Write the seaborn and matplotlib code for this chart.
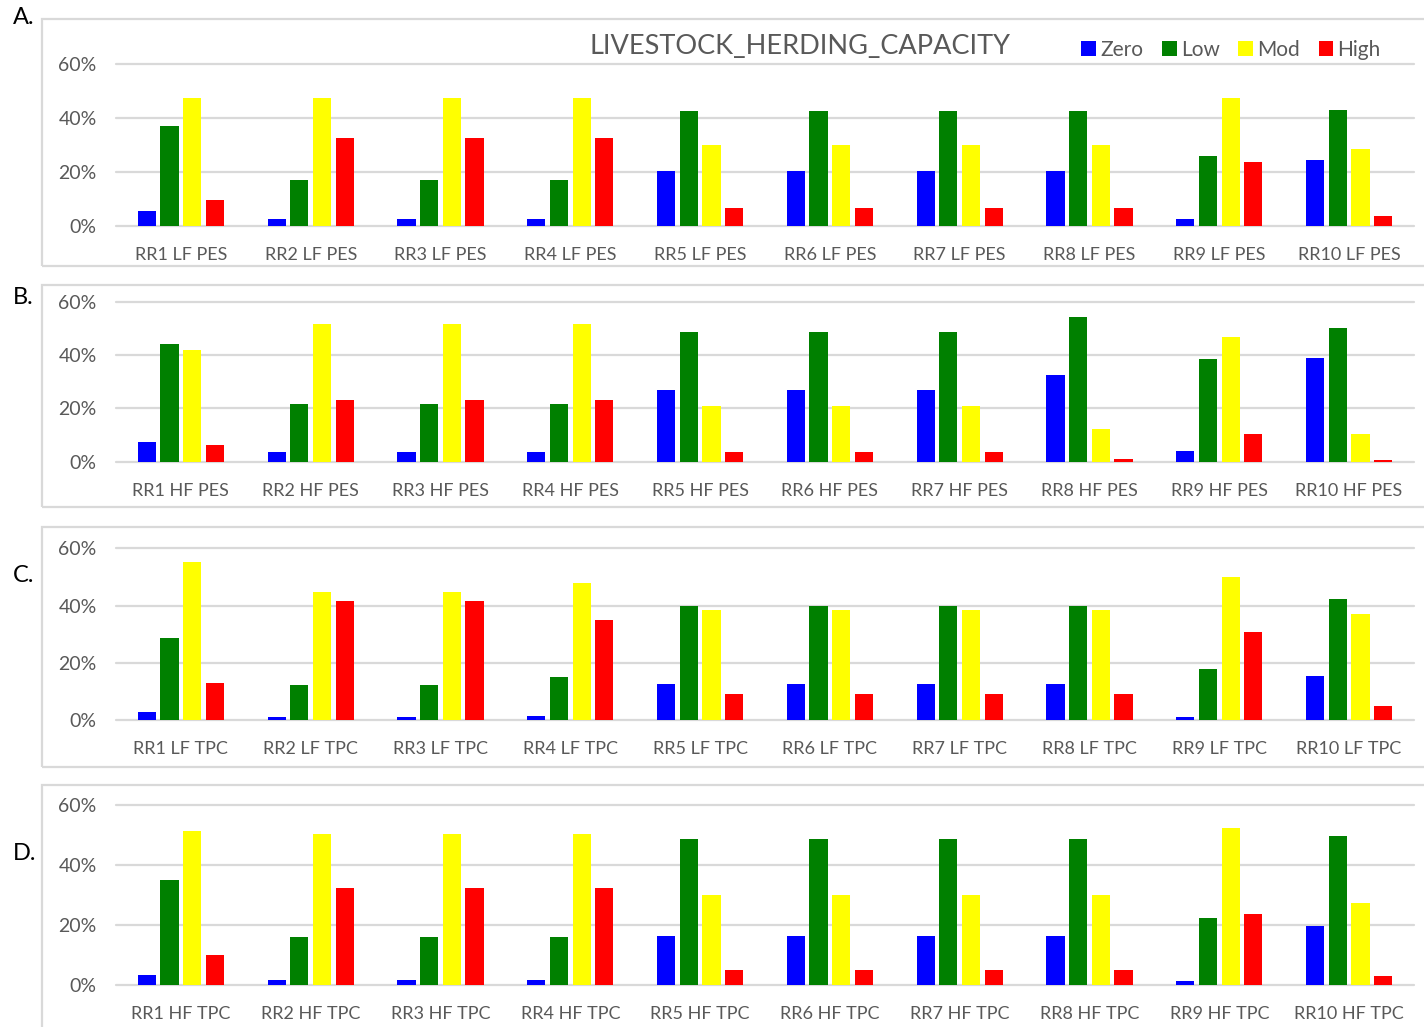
import matplotlib
matplotlib.use("Agg")
import matplotlib.pyplot as plt
from matplotlib.patches import Rectangle, Patch
from matplotlib.ticker import PercentFormatter, FixedLocator
import pandas as pd
import seaborn as sns

# ---- data (percent of respondents) ----
levels = ["Zero", "Low", "Mod", "High"]
level_colors = ["#0000FF", "#008000", "#FFFF00", "#FF0000"]
sites = [f"RR{i}" for i in range(1, 11)]
panel_tags = ["A.", "B.", "C.", "D."]
panel_suffixes = ["LF PES", "HF PES", "LF TPC", "HF TPC"]

lf_pes_zero = [5.6, 2.6, 2.6, 2.6, 20.4, 20.4, 20.4, 20.4, 2.6, 24.3]
lf_pes_low = [36.9, 17.0, 17.0, 17.0, 42.5, 42.5, 42.5, 42.5, 25.8, 43.0]
lf_pes_mod = [47.5, 47.5, 47.5, 47.5, 30.1, 30.1, 30.1, 30.1, 47.5, 28.4]
lf_pes_high = [9.6, 32.7, 32.7, 32.7, 6.5, 6.5, 6.5, 6.5, 23.8, 3.7]

hf_pes_zero = [7.4, 3.5, 3.5, 3.5, 26.9, 26.9, 26.9, 32.4, 4.0, 38.8]
hf_pes_low = [44.3, 21.5, 21.5, 21.5, 48.5, 48.5, 48.5, 54.1, 38.6, 50.0]
hf_pes_mod = [41.9, 51.8, 51.8, 51.8, 20.9, 20.9, 20.9, 12.4, 46.8, 10.4]
hf_pes_high = [6.4, 23.2, 23.2, 23.2, 3.6, 3.6, 3.6, 0.9, 10.3, 0.6]

lf_tpc_zero = [2.8, 1.2, 1.2, 1.6, 12.6, 12.6, 12.6, 12.6, 1.0, 15.5]
lf_tpc_low = [28.8, 12.4, 12.4, 15.1, 39.7, 39.7, 39.7, 39.7, 17.8, 42.4]
lf_tpc_mod = [55.1, 44.7, 44.7, 48.0, 38.5, 38.5, 38.5, 38.5, 50.1, 37.0]
lf_tpc_high = [13.1, 41.5, 41.5, 35.1, 9.2, 9.2, 9.2, 9.2, 30.7, 5.0]

hf_tpc_zero = [3.5, 1.7, 1.7, 1.7, 16.3, 16.3, 16.3, 16.3, 1.4, 19.7]
hf_tpc_low = [34.9, 15.9, 15.9, 15.9, 48.5, 48.5, 48.5, 48.5, 22.5, 49.6]
hf_tpc_mod = [51.4, 50.2, 50.2, 50.2, 30.0, 30.0, 30.0, 30.0, 52.3, 27.3]
hf_tpc_high = [10.0, 32.2, 32.2, 32.2, 5.0, 5.0, 5.0, 5.0, 23.6, 3.0]

panel_series = [
    [lf_pes_zero, lf_pes_low, lf_pes_mod, lf_pes_high],
    [hf_pes_zero, hf_pes_low, hf_pes_mod, hf_pes_high],
    [lf_tpc_zero, lf_tpc_low, lf_tpc_mod, lf_tpc_high],
    [hf_tpc_zero, hf_tpc_low, hf_tpc_mod, hf_tpc_high],
]

title = "LIVESTOCK_HERDING_CAPACITY"

# ---- styling ----
sns.set_theme(style="white")
plt.rcParams["font.family"] = ["Lato", "DejaVu Sans"]
TEXT = "#595959"
GRID = "#D9D9D9"

W, H = 1424, 1027
fig = plt.figure(figsize=(W / 100, H / 100), dpi=100)
fig.patch.set_facecolor("white")


def fx(px):
    return px / W


def fy(py):
    return 1 - py / H


# pixel layout: (box_top, box_bottom, plot_top, plot_bottom, tag_y)
layout = [
    (19, 266, 64, 226, 17),
    (285, 507, 301.7, 461.7, 297),
    (527, 767, 548.3, 720.3, 575),
    (785, 1040, 804.7, 985.3, 853),
]
plot_left, plot_right = 116, 1414

for p in range(4):
    box_top, box_bot, p_top, p_bot, tag_y = layout[p]

    # chart frame
    fig.patches.append(Rectangle((fx(42), fy(box_bot)), fx(1440 - 42), fy(box_top) - fy(box_bot),
                                 transform=fig.transFigure, fill=False,
                                 edgecolor=GRID, linewidth=1.6, zorder=0))
    fig.text(fx(13), fy(tag_y), panel_tags[p], fontsize=17, color="black",
             ha="left", va="center")

    ax = fig.add_axes([fx(plot_left), fy(p_bot), fx(plot_right - plot_left), fy(p_top) - fy(p_bot)])
    ticklabels = [f"{s} {panel_suffixes[p]}" for s in sites]
    rows = []
    for lvl, vals in zip(levels, panel_series[p]):
        for lab, v in zip(ticklabels, vals):
            rows.append({"site": lab, "level": lvl, "value": v})
    df = pd.DataFrame(rows)

    sns.barplot(data=df, x="site", y="value", hue="level", hue_order=levels,
                order=ticklabels, palette=level_colors, saturation=1,
                width=0.7, gap=0.2, linewidth=0, legend=False, ax=ax)

    ax.set_xlim(-0.5, 9.5)
    ax.set_ylim(0, 60)
    ax.yaxis.set_major_locator(FixedLocator([0, 20, 40, 60]))
    ax.yaxis.set_major_formatter(PercentFormatter(xmax=100, decimals=0))
    ax.set_axisbelow(True)
    ax.yaxis.grid(True, color=GRID, linewidth=1.6)
    ax.xaxis.grid(False)
    for s in ax.spines.values():
        s.set_visible(False)
    ax.set_xlabel("")
    ax.set_ylabel("")
    ax.set_facecolor("none")
    ax.tick_params(axis="y", length=0, pad=14, labelsize=14, labelcolor=TEXT)
    ax.tick_params(axis="x", length=0, pad=15, labelsize=13, labelcolor=TEXT)
    for gl in ax.get_ygridlines():
        gl.set_clip_on(False)

    if p == 0:
        fig.text(fx(800), fy(46), title, fontsize=19.5, color=TEXT, ha="center", va="center")
        handles = [Patch(facecolor=c, edgecolor="none", label=l) for l, c in zip(levels, level_colors)]
        fig.legend(handles=handles, loc="center", bbox_to_anchor=(fx(1231), fy(50)),
                   ncol=4, frameon=False, fontsize=15, labelcolor=TEXT,
                   handlelength=0.7, handleheight=0.7, handletextpad=0.2,
                   columnspacing=0.9, borderaxespad=0)

fig.savefig("out.png", dpi=100, facecolor="white")
